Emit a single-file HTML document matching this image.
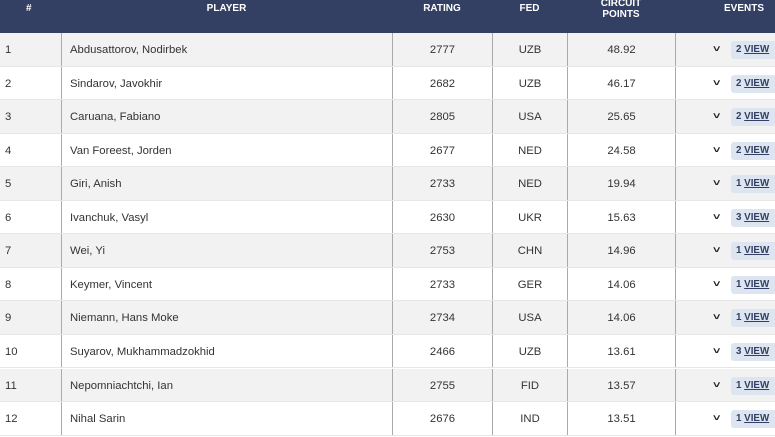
<!DOCTYPE html>
<html><head><meta charset="utf-8"><style>
body{margin:0;width:775px;height:432px;overflow:hidden;background:#fff;font-family:"Liberation Sans",sans-serif;position:relative;}
.h{position:absolute;left:0;top:0;width:775px;height:33px;background:#333f63;color:#fff;font-size:10px;font-weight:bold;}
.h div{position:absolute;top:3px;text-align:center;line-height:11px;}
.r{position:absolute;left:0;width:775px;height:33.55px;font-size:11.3px;color:#333;border-bottom:1px solid #e6e6e6;box-sizing:border-box;}
.r div{position:absolute;top:0;height:100%;line-height:35px;box-sizing:border-box;}
.c{text-align:center;border-left:1px solid #aaa;}
.r .chev{left:714px;top:0;line-height:32px;font-size:9px;font-weight:bold;color:#222;transform:scaleX(1.4);}
.r .btn{left:731px;top:8px;height:18px;line-height:18px;width:50px;background:#dce5f0;border-radius:3px;font-size:9.8px;font-weight:bold;color:#333f63;padding-left:5px;}
</style></head><body>
<div class="h">
<div style="left:26px">#</div>
<div style="left:61px;width:331px">PLAYER</div>
<div style="left:392px;width:100px">RATING</div>
<div style="left:492px;width:75px">FED</div>
<div style="left:567px;width:108px;top:-2px">CIRCUIT<br>POINTS</div>
<div style="left:724px">EVENTS</div>
</div>
<div id="rows"></div>
<script>
var d=[["1","Abdusattorov, Nodirbek","2777","UZB","48.92","2"],["2","Sindarov, Javokhir","2682","UZB","46.17","2"],["3","Caruana, Fabiano","2805","USA","25.65","2"],["4","Van Foreest, Jorden","2677","NED","24.58","2"],["5","Giri, Anish","2733","NED","19.94","1"],["6","Ivanchuk, Vasyl","2630","UKR","15.63","3"],["7","Wei, Yi","2753","CHN","14.96","1"],["8","Keymer, Vincent","2733","GER","14.06","1"],["9","Niemann, Hans Moke","2734","USA","14.06","1"],["10","Suyarov, Mukhammadzokhid","2466","UZB","13.61","3"],["11","Nepomniachtchi, Ian","2755","FID","13.57","1"],["12","Nihal Sarin","2676","IND","13.51","1"]];
var h="";
d.forEach(function(r,i){
h+='<div class="r" style="top:'+(33+i*33.55)+'px;background:'+(i%2?'#fff':'#f2f2f2')+'">'+
'<div style="left:5px">'+r[0]+'</div>'+
'<div class="c" style="left:61px;width:331px;text-align:left;padding-left:8px">'+r[1]+'</div>'+
'<div class="c" style="left:392px;width:100px">'+r[2]+'</div>'+
'<div class="c" style="left:492px;width:75px">'+r[3]+'</div>'+
'<div class="c" style="left:567px;width:108px">'+r[4]+'</div>'+
'<div class="c" style="left:675px;width:100px"></div>'+
'<div class="chev">˅</div>'+
'<div class="btn">'+r[5]+' <u>VIEW</u></div></div>';
});
document.getElementById("rows").innerHTML=h;
</script>
</body></html>
